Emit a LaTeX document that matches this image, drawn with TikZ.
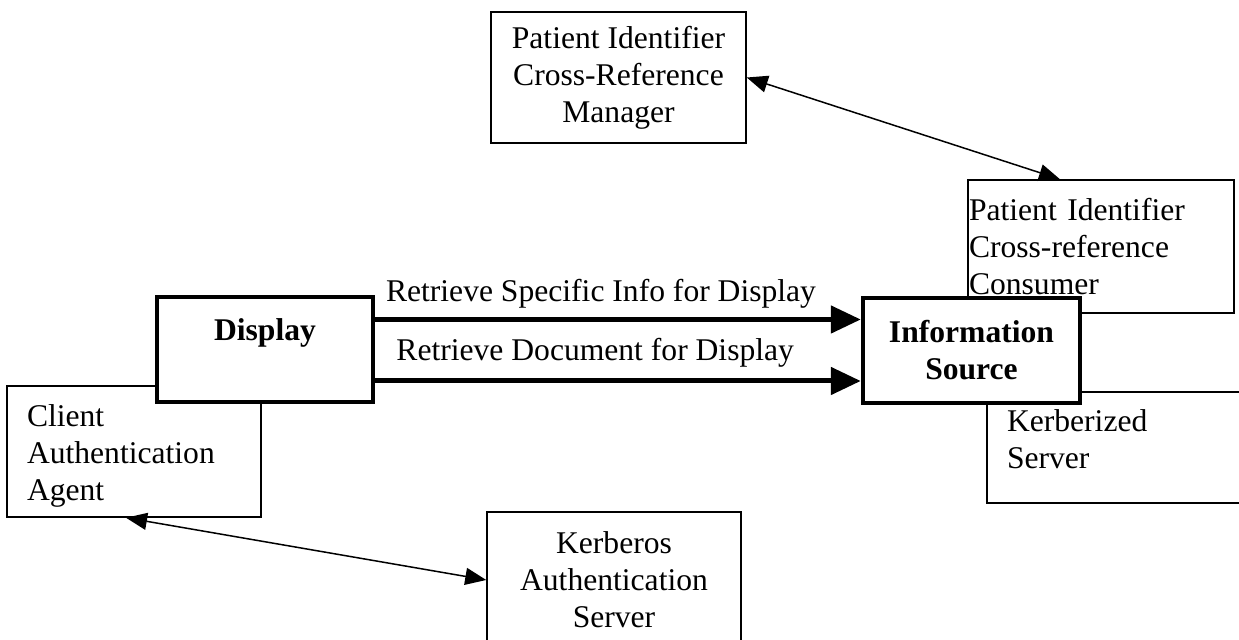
\documentclass[tikz,border=0pt]{standalone}
\usepackage{fontspec}
\setmainfont{Liberation Serif}
\usepackage{tikz}
\usetikzlibrary{arrows.meta, positioning, calc}

\begin{document}
\begin{tikzpicture}[
        x=0.5pt, y=-0.5pt,
        box/.style={
            rectangle,
            draw=black,
            fill=white,
            line width=0.75pt,
            inner sep=0pt,
            font=\fontsize{15.8}{18.5}\selectfont
        },
        mainbox/.style={
            box,
            line width=2.25pt,
            font=\fontsize{15.8}{18.5}\selectfont\bfseries,
            align=center
        },
        link/.style={
            {Triangle[length=10.5pt,width=8.5pt]}-{Triangle[length=10.5pt,width=8.5pt]},
            line width=0.75pt
        },
        arrow/.style={
            -{Triangle[length=15pt,width=13.5pt]},
            line width=2.5pt
        },
        flow/.style={
            font=\fontsize{15.8}{18.5}\selectfont,
            inner sep=2pt
        }
    ]

    \useasboundingbox (0,0) rectangle (1239,640);
    \clip (0,0) rectangle (1239,640);

    % Patient identifier cross-referencing
    \node[box, align=center, minimum width=127.5pt, minimum height=65.5pt] (pixmgr) at (618.5,77.5) {Patient Identifier \\ Cross-Reference \\ Manager};
    \node[box, align=left, text width=132pt, inner xsep=0.5pt, minimum height=66.5pt] (pixcons) at (1101,246.5) {Patient Identifier \\ Cross-reference \\ Consumer};

    % Authentication
    \node[box, align=left, text width=107pt, inner xsep=10pt, minimum height=65.5pt, text height=15pt] (client) at (134,451.5) {Client \\ Authentication \\ Agent};
    \node[box, align=left, text width=121.5pt, inner xsep=10pt, minimum height=55.5pt, text depth=27pt] (kerbsrv) at (1128.5,447.5) {Kerberized \\ Server};
    \node[box, align=center, minimum width=127pt, minimum height=68pt] (kerbas) at (614,580) {Kerberos \\ Authentication \\ Server};

    % Display and information source
    \node[mainbox, minimum width=108pt, minimum height=52.5pt, text depth=20pt] (display) at (265,349.5) {Display};
    \node[mainbox, minimum width=108.5pt, minimum height=52.5pt] (infosrc) at (971.5,350.5) {Information \\ Source};

    % Transactions
    \draw[arrow] ([yshift=15pt]display.east) -- ([yshift=15pt]display.east -| infosrc.west)
        node[flow, pos=0.465, above=2.5pt] (specinfo) {Retrieve Specific Info for Display};
    \draw[arrow] ([yshift=-15.75pt]display.east) -- ([yshift=-15.75pt]display.east -| infosrc.west)
        node[flow, pos=0.453, above=3.5pt] (docinfo) {Retrieve Document for Display};

    % Links
    \draw[link] (pixmgr.east) -- ([xshift=-20.5pt]pixcons.north);
    \draw[link] ([xshift=-4pt]client.south) -- (kerbas.west);

\end{tikzpicture}
\end{document}
